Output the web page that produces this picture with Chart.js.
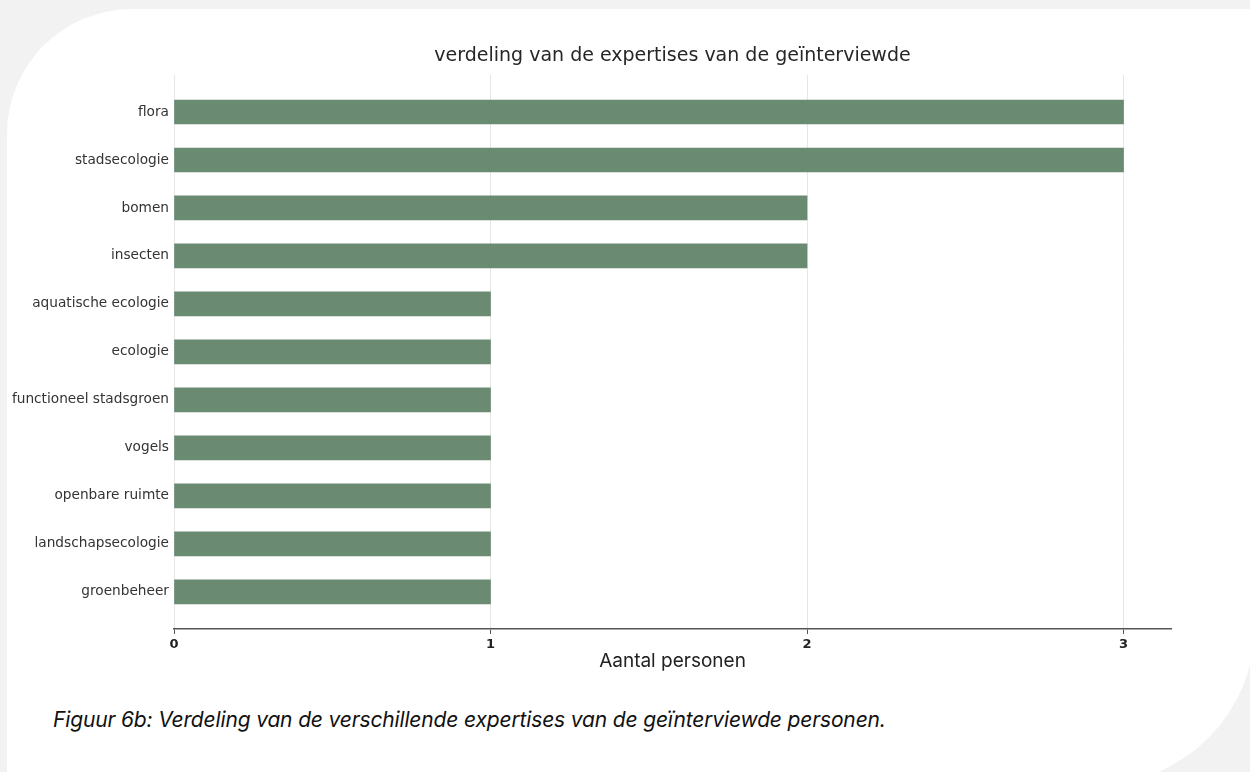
<!DOCTYPE html>
<html>
<head>
<meta charset="utf-8">
<script src="https://cdn.jsdelivr.net/npm/chart.js@4"></script>
<style>
  html, body { margin: 0; padding: 0; }
  body { width: 1250px; height: 772px; background: #f2f2f2; position: relative; overflow: hidden; }
  #card { position: absolute; left: 7px; top: 9px; width: 1248px; height: 776px; background: #fff;
          border-radius: 125px 0 160px 0; }
  #wrap { position: absolute; left: 0; top: 0; width: 1250px; height: 700px; }
  #caption { position: absolute; left: 53px; top: 707px; font-family: Inter, "Open Sans", sans-serif;
             font-style: italic; font-size: 21px; color: #111; letter-spacing: -0.15px; }
</style>
</head>
<body>
<div id="card"></div>
<div id="wrap"><canvas id="chart-expertise"></canvas></div>
<div id="caption">Figuur 6b: Verdeling van de verschillende expertises van de geïnterviewde personen.</div>
<script>
// data
var expertises = ["flora", "stadsecologie", "bomen", "insecten", "aquatische ecologie", "ecologie",
  "functioneel stadsgroen", "vogels", "openbare ruimte", "landschapsecologie", "groenbeheer"];
var aantal = [3, 3, 2, 2, 1, 1, 1, 1, 1, 1, 1];
var xTicks = [0, 1, 2, 3];

var ctx = document.getElementById("chart-expertise").getContext("2d");

new Chart(ctx, {
  type: "bar",
  data: {
    datasets: [
      {
        label: "Aantal personen",
        data: aantal.map(function (v, i) { return { x: v, y: i }; }),
        backgroundColor: "#6a8a72",
        borderWidth: 0,
        barThickness: 24,
      },
    ],
  },
  options: {
    indexAxis: "y",
    responsive: true,
    maintainAspectRatio: false,
    animation: false,
    layout: { padding: { left: 0, right: 79, top: 0, bottom: 11 } },
    plugins: {
      legend: { display: false },
      tooltip: { enabled: false },
      title: {
        display: true,
        fullSize: false,
        text: "verdeling van de expertises van de geïnterviewde",
        color: "#262626",
        font: { family: "DejaVu Sans", size: 19, weight: "normal" },
        padding: { top: 45, bottom: 7 },
      },
    },
    scales: {
      x: {
        type: "linear",
        min: 0,
        max: 3.15,
        afterFit: function (scale) { scale.height = 60; },
        afterBuildTicks: function (scale) {
          scale.ticks = xTicks.map(function (v) { return { value: v }; });
        },
        grid: { color: "#e6e6e6", lineWidth: 1, tickColor: "#555", tickLength: 5 },
        border: { display: true, color: "#555", width: 1.5 },
        ticks: {
          includeBounds: false,
          padding: 3,
          color: "#222",
          font: { family: "DejaVu Sans", size: 13, weight: "bold" },
        },
        title: {
          display: true,
          text: "Aantal personen",
          color: "#222",
          font: { family: "Inter", size: 19 },
          padding: { top: 0, bottom: 16 },
        },
      },
      y: {
        type: "linear",
        reverse: true,
        offset: false,
        min: -0.775,
        max: 10.775,
        afterFit: function (scale) { scale.width = 174; },
        afterBuildTicks: function (scale) {
          scale.ticks = expertises.map(function (_, i) { return { value: i }; });
        },
        grid: { display: false, offset: false, drawTicks: false, tickLength: 0 },
        border: { display: false },
        ticks: {
          autoSkip: false,
          padding: 5,
          color: "#333",
          font: { family: "DejaVu Sans", size: 13.7 },
          callback: function (value) { return expertises[value]; },
        },
      },
    },
  },
});
</script>
</body>
</html>
